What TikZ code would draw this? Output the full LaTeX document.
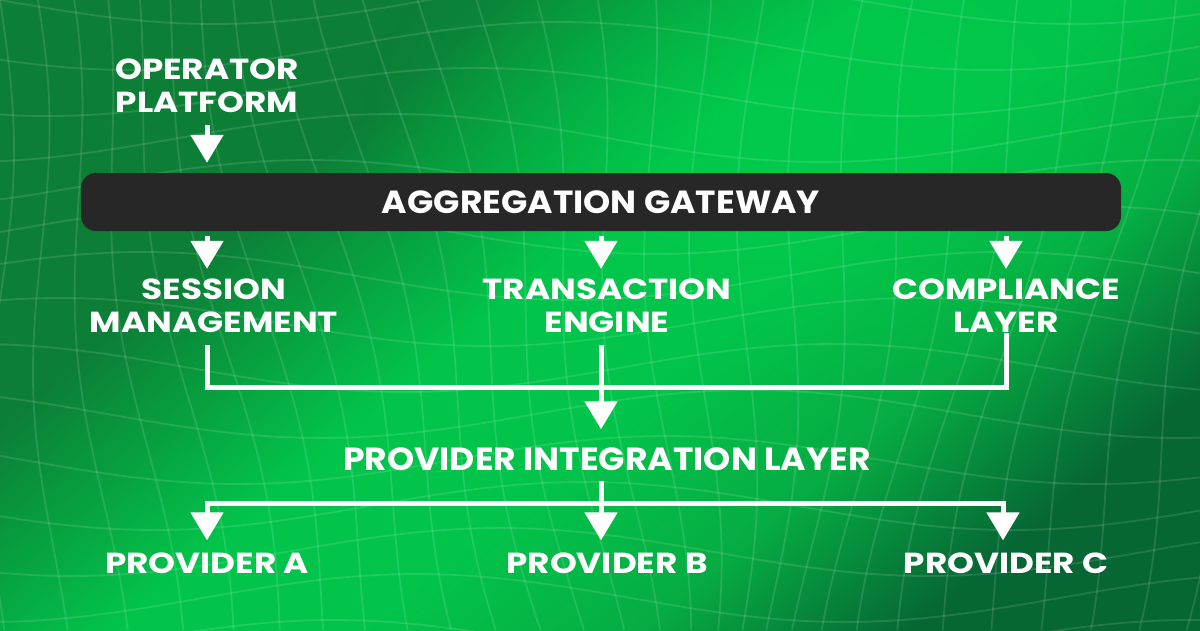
\documentclass[tikz,border=0pt]{standalone}
\usepackage{fontspec}
\usepackage{tikz}
\usetikzlibrary{arrows.meta, positioning, calc, fadings}
\newfontfamily\wideface{Poppins}[FakeStretch=1.18]
\newfontfamily\narrowface{Poppins}[FakeStretch=1.08]
\definecolor{GreenDark}{RGB}{12, 126, 54}
\definecolor{GreenMid}{RGB}{6, 172, 66}
\definecolor{GreenBright}{RGB}{2, 196, 74}
\definecolor{GreenDeep}{RGB}{6, 102, 52}
\definecolor{GreenGlow}{RGB}{0, 206, 76}
\definecolor{BarGray}{RGB}{39, 39, 39}
\tikzfading[name=glow, inner color=transparent!0, outer color=transparent!100]
\pgfdeclareverticalshading{bgdiag}{100bp}{%
  color(0bp)=(GreenDeep); color(25bp)=(GreenDeep); color(35bp)=(GreenMid);
  color(45bp)=(GreenBright); color(54bp)=(GreenBright); color(67bp)=(GreenDark);
  color(100bp)=(GreenDark)}

\tikzset{
  label/.style={text=white, inner sep=0pt, align=center,
    font=\wideface\bfseries\fontsize{29}{33}\selectfont},
  barlabel/.style={text=white, inner sep=0pt,
    font=\narrowface\bfseries\fontsize{32}{36}\selectfont},
  wire/.style={draw=white, line width=5pt, line cap=rect, line join=miter},
  flow/.style={wire, line cap=butt, -{Triangle[width=32pt, length=28pt]}},
  gridline/.style={draw=white, opacity=0.12, line width=1.8pt}
}

\begin{document}
\begin{tikzpicture}[x=1pt, y=-1pt]
  \useasboundingbox (0,0) rectangle (1200,630);
  % background
  \begin{scope}
    \clip (0,0) rectangle (1200,630);
    \shade[shading=bgdiag, shading angle=40] (0,0) rectangle (1200,630);
    \fill[GreenGlow, path fading=glow, opacity=0.6] (780,130) ellipse (420 and 260);
    \foreach \k in {-3,...,18}
      \draw[gridline, domain=0:1200, samples=80, smooth]
        plot (\x, {\k*46 + 24*sin(0.42*\x + 35*\k)});
    \foreach \k in {-3,...,30}
      \draw[gridline, domain=0:630, samples=50, smooth]
        plot ({\k*44 + 14*sin(0.6*\x + 30*\k) + 0.22*(\x-315)*sin(11*\k)}, \x);
  \end{scope}

  % column guides
  \coordinate (colL) at (207,0);
  \coordinate (colM) at (601,0);
  \coordinate (colR) at (1006,0);

  \node[label] (op) at (207,86) {OPERATOR\\PLATFORM};
  \node[
    fill=BarGray,
    rounded corners=15pt,
    minimum width=1040pt,
    minimum height=58pt
  ] (gw) at (601,202) {};
  \node[barlabel] at (gw) {AGGREGATION GATEWAY};

  \node[label] (sess) at (214,306) {SESSION\\MANAGEMENT};
  \node[label] (trans) at (607,306) {TRANSACTION\\ENGINE};
  \node[label] (comp) at (1006,306) {COMPLIANCE\\LAYER};

  \node[barlabel] (pil) at (607,459) {PROVIDER INTEGRATION LAYER};

  \node[label] (pa) at (207,563) {PROVIDER A};
  \node[label] (pb) at (607,563) {PROVIDER B};
  \node[label] (pc) at (1006,563) {PROVIDER C};

  % into the gateway
  \draw[flow, shorten <=12pt, shorten >=10pt] (op.south -| colL) -- (gw.north -| colL);
  \draw[flow, shorten <=5pt, shorten >=10pt] (gw.south -| colL) -- (sess.north -| colL);
  \draw[flow, shorten <=5pt, shorten >=10pt] (gw.south -| colM) -- (trans.north -| colM);
  \draw[flow, shorten <=5pt, shorten >=10pt] (gw.south -| colR) -- (comp.north -| colR);

  % merge
  \coordinate (joinL) at (207,387);
  \coordinate (joinR) at (1006,387);
  \draw[wire, line cap=butt, shorten <=12pt] (sess.south -| joinL) -- (joinL) -- (joinR) -- (comp.south -| joinR);
  \draw[flow, shorten <=12pt, shorten >=18pt] (trans.south -| colM) -- (pil.north -| colM);

  % fan out
  \coordinate (forkL) at (207,503);
  \coordinate (forkM) at (601,503);
  \coordinate (forkR) at (1003,503);
  \draw[wire, line cap=butt, shorten <=10pt] (pil.south -| forkM) -- (forkM);
  \draw[wire] (forkL) -- (forkR);
  \draw[flow] (forkL) -- ($(pa.north -| forkL)+(0,-12)$);
  \draw[flow] (forkM) -- ($(pb.north -| forkM)+(0,-12)$);
  \draw[flow] (forkR) -- ($(pc.north -| forkR)+(0,-12)$);
\end{tikzpicture}
\end{document}
